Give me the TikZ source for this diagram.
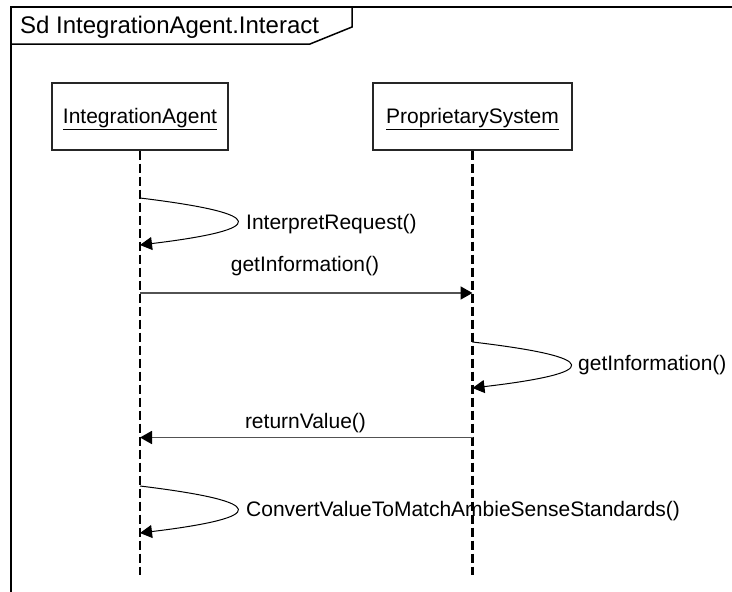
\documentclass[tikz,border=0pt]{standalone}
\usepackage{fontspec}
\setmainfont{Liberation Sans}
\usetikzlibrary{arrows.meta}
\begin{document}
\begin{tikzpicture}[x=1pt,y=-1pt,
  lbl/.style={inner sep=0pt, font=\fontsize{21}{25}\selectfont},
  lifebox/.style={draw=black!85, line width=1.3pt, minimum height=67pt,
    inner sep=0pt, text height=15pt, text depth=2pt,
    font=\fontsize{21}{25}\selectfont},
  lifeline/.style={line width=2.2pt, dash pattern=on 9pt off 4pt},
  tip/.style={-{Triangle[length=12pt,width=13pt,color=black]}},
  msg/.style={draw=black!68, line width=1.8pt, tip},
  selfmsg/.style={black, line width=1pt, tip}]

% canvas
\useasboundingbox (0,0) rectangle (732,592);

% sequence-diagram frame and its name tab
\draw[line width=2pt] (11,592) -- (11,7) -- (732,7);
\node[anchor=base west, inner sep=0pt, font=\fontsize{24}{28}\selectfont]
  (title) at (20,33.5) {Sd IntegrationAgent.Interact};
\draw[line width=1.5pt] (11,44) -- (310,44) -- (352,27) -- (352,7);

% lifeline heads
\node[lifebox, minimum width=176pt] (ia) at (140,116.5) {\underline{IntegrationAgent}};
\node[lifebox, minimum width=199pt] (ps) at (472.5,116.5) {\underline{ProprietarySystem}};

% lifelines
\coordinate (iaend) at (ia |- 0,575);
\coordinate (psend) at (ps |- 0,575);
\draw[lifeline] (ia.south) -- (iaend);
\draw[lifeline] (ps.south) -- (psend);

% InterpretRequest() on IntegrationAgent
\draw[selfmsg] (ia |- 0,198) .. controls (269.3,213.7) and (269.3,229.3) .. (ia |- 0,245);
\node[lbl, anchor=base west] (m1) at (246,229.5) {InterpretRequest()};

% getInformation() to ProprietarySystem
\draw[msg] (ia |- 0,293) -- (ps |- 0,293);
\node[lbl, anchor=base] (m2) at (305,271.5) {getInformation()};

% getInformation() on ProprietarySystem
\draw[selfmsg] (ps |- 0,342) .. controls (602.7,357.3) and (602.7,372.7) .. (ps |- 0,388);
\node[lbl, anchor=base west] (m3) at (578,370) {getInformation()};

% returnValue() back to IntegrationAgent
\draw[msg] (ps |- 0,437.5) -- (ia |- 0,437.5);
\node[lbl, anchor=base] (m4) at (305.5,428) {returnValue()};

% ConvertValueToMatchAmbieSenseStandards() on IntegrationAgent
\draw[selfmsg] (ia |- 0,486) .. controls (269.3,501.7) and (269.3,517.3) .. (ia |- 0,533);
\node[lbl, anchor=base west] (m5) at (246,516) {ConvertValueToMatchAmbieSenseStandards()};
\end{tikzpicture}
\end{document}
